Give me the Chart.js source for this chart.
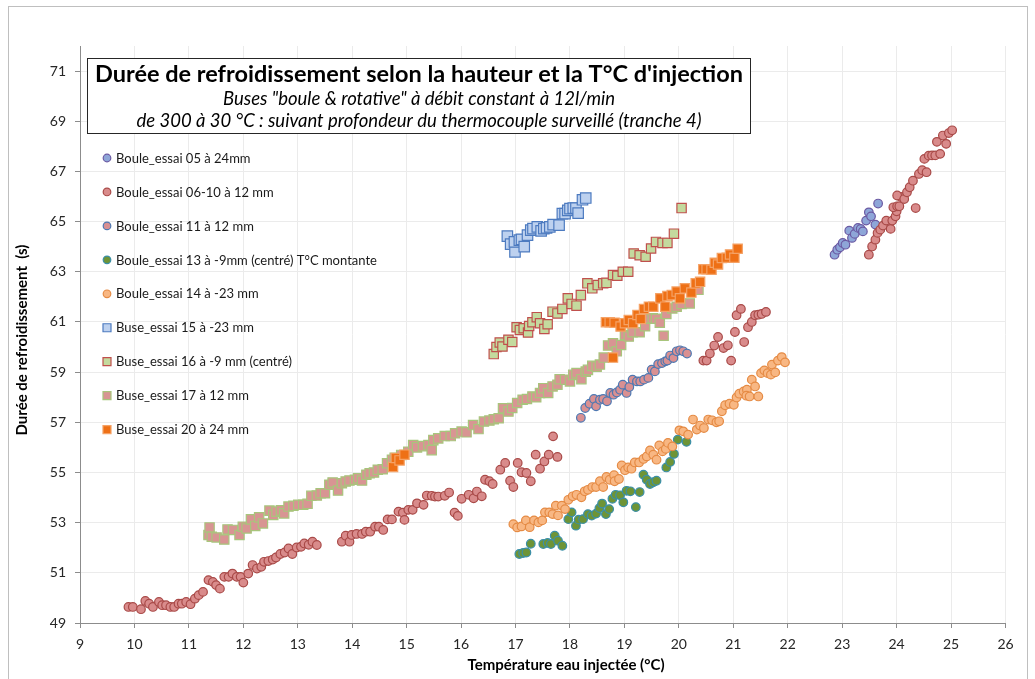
<!DOCTYPE html>
<html>
<head>
<meta charset="utf-8">
<script src="https://cdn.jsdelivr.net/npm/chart.js@4/dist/chart.umd.min.js"></script>
<style>
  html, body { margin: 0; padding: 0; background: #ffffff; }
  canvas { display: block; }
</style>
</head>
<body>
<canvas id="chart" width="1035" height="679"></canvas>
<script>
// ---- Series names (legend order) ----
const seriesNames = [
  "Boule_essai 05 à 24mm",
  "Boule_essai 06-10 à 12 mm",
  "Boule_essai 11 à 12 mm",
  "Boule_essai 13 à -9mm (centré) T°C montante",
  "Boule_essai 14 à -23 mm",
  "Buse_essai 15 à -23 mm",
  "Buse_essai 16 à -9 mm (centré)",
  "Buse_essai 17 à 12 mm",
  "Buse_essai 20 à 24 mm"
];

// ---- Measurements: [injected water temperature °C, cooling time s] ----
const boule05 = [[22.86,63.68],[22.91,63.88],[22.96,63.98],[23.01,64.15],[23.06,64.08],[23.13,64.64],[23.18,64.35],[23.23,64.51],[23.29,64.75],[23.34,64.71],[23.38,64.61],[23.44,65.04],[23.49,65.37],[23.53,65.21],[23.61,64.88],[23.66,65.72]];

const boule0610 = [[9.89,49.64],[9.97,49.64],[10.12,49.55],[10.20,49.88],[10.27,49.77],[10.34,49.64],[10.45,49.84],[10.51,49.71],[10.58,49.71],[10.66,49.64],[10.73,49.64],[10.81,49.77],[10.87,49.77],[10.95,49.84],[11.03,49.75],[11.11,49.97],[11.18,50.11],[11.26,50.24],[11.36,50.71],[11.44,50.64],[11.50,50.51],[11.57,50.37],[11.65,50.84],[11.73,50.84],[11.80,50.97],[11.88,50.84],[11.95,50.84],[12.00,50.61],[12.09,50.97],[12.17,51.31],[12.25,51.17],[12.33,51.24],[12.38,51.44],[12.46,51.47],[12.54,51.53],[12.60,51.61],[12.68,51.75],[12.76,51.81],[12.83,51.97],[12.90,51.75],[12.98,52.01],[13.06,52.04],[13.12,52.17],[13.20,52.12],[13.27,52.24],[13.35,52.11],[13.81,52.24],[13.88,52.48],[13.95,52.24],[13.99,52.51],[14.08,52.55],[14.18,52.55],[14.25,52.64],[14.33,52.64],[14.42,52.84],[14.49,52.84],[14.57,52.71],[14.65,53.13],[14.73,53.13],[14.85,53.44],[14.93,53.40],[14.96,53.11],[15.03,53.51],[15.11,53.51],[15.19,53.77],[15.31,53.71],[15.37,54.08],[15.46,54.07],[15.52,54.04],[15.58,54.04],[15.70,54.07],[15.78,54.20],[15.88,53.40],[15.94,53.27],[16.01,53.95],[16.14,54.11],[16.23,53.97],[16.29,54.24],
  [16.38,54.05],[16.44,54.71],[16.52,54.65],[16.58,54.54],[16.72,55.11],[16.81,55.38],[16.90,54.67],[16.96,54.42],[17.04,55.38],[17.11,55.01],[17.20,54.98],[17.28,54.65],[17.37,55.71],[17.45,55.15],[17.53,55.44],[17.61,55.71],[17.69,56.44],[17.77,55.62],
  [20.45,59.46],[20.51,59.46],[20.57,59.74],[20.65,60.06],[20.72,60.40],[20.82,59.96],[20.90,60.07],[20.96,59.46],[21.03,60.60],[21.06,61.27],[21.14,61.52],[21.20,60.20],[21.27,60.79],[21.34,61.00],[21.40,61.27],[21.46,61.29],[21.52,61.32],[21.60,61.40],
  [23.49,63.68],[23.55,64.01],[23.61,64.28],[23.65,64.55],[23.70,64.68],[23.75,64.84],[23.81,65.04],[23.89,64.71],[23.92,65.04],[23.98,65.21],[24.00,65.41],[23.94,65.57],[24.01,65.61],[24.05,65.61],[24.08,65.98],[24.01,66.04],[24.14,65.90],[24.19,66.17],[24.24,66.37],[24.30,66.63],[24.35,65.54],[24.41,66.90],[24.47,67.05],[24.55,66.97],[24.51,67.50],[24.59,67.63],[24.65,67.64],[24.71,67.64],[24.80,67.70],[24.74,68.18],[24.91,68.10],[24.85,68.43],[24.96,68.53],[25.02,68.64]];

const boule11 = [[18.20,57.18],[18.28,57.57],[18.36,57.74],[18.44,57.93],[18.48,57.64],[18.55,57.90],[18.61,57.93],[18.68,57.84],[18.74,58.17],[18.80,58.10],[18.86,58.19],[18.92,58.30],[18.97,58.50],[19.04,58.17],[19.09,58.41],[19.15,58.70],[19.23,58.63],[19.29,58.63],[19.36,58.70],[19.44,58.77],[19.50,59.10],[19.56,59.03],[19.62,59.32],[19.69,59.36],[19.75,59.43],[19.79,59.46],[19.84,59.66],[19.90,59.56],[19.96,59.83],[20.02,59.87],[20.08,59.83],[20.15,59.74]];

const boule13 = [[17.07,51.75],[17.14,51.79],[17.20,51.81],[17.28,52.16],[17.51,52.15],[17.59,52.19],[17.65,52.15],[17.72,52.48],[17.78,52.28],[17.86,52.08],[17.97,53.14],[18.03,53.41],[18.11,52.88],[18.16,53.12],[18.24,53.14],[18.33,53.34],[18.40,53.28],[18.48,53.36],[18.54,53.58],[18.59,53.76],[18.66,53.34],[18.72,53.54],[18.78,53.95],[18.84,54.11],[18.92,54.09],[18.98,53.81],[19.04,54.27],[19.11,54.25],[19.21,53.62],[19.28,54.22],[19.35,54.91],[19.41,54.71],[19.47,54.54],[19.53,54.61],[19.59,54.67],[19.77,55.20],[19.84,55.42],[19.91,55.74],[19.98,56.31],[20.14,56.22]];

const boule14 = [[16.96,52.94],[17.03,52.81],[17.11,52.85],[17.19,53.09],[17.26,52.82],[17.34,53.09],[17.42,53.01],[17.49,53.09],[17.54,53.41],[17.62,53.41],[17.68,53.34],[17.78,53.29],[17.74,53.68],[17.85,53.68],[17.91,53.54],[17.97,53.91],[18.05,54.05],[18.12,54.11],[18.21,54.01],[18.27,54.25],[18.33,54.31],[18.41,54.42],[18.48,54.42],[18.55,54.65],[18.61,54.42],[18.67,54.82],[18.73,54.71],[18.81,54.89],[18.82,54.65],[18.90,54.74],[18.95,55.28],[19.01,55.09],[19.07,55.20],[19.13,55.15],[19.19,55.40],[19.27,55.40],[19.35,55.54],[19.41,55.64],[19.47,55.88],[19.53,55.71],[19.59,55.51],[19.64,56.08],[19.70,55.84],[19.76,55.94],[19.80,56.18],[19.88,56.04],[20.01,56.68],[20.08,56.64],[20.17,56.51],[20.26,57.11],[20.33,56.71],[20.39,56.87],[20.46,56.77],[20.54,57.11],[20.61,57.08],[20.69,57.00],[20.74,57.04],[20.79,57.44],[20.85,57.68],[20.93,57.74],[21.01,57.70],[21.06,57.99],[21.11,58.14],[21.19,58.23],[21.25,58.30],[21.24,58.06],[21.30,58.03],[21.34,58.70],[21.40,58.43],[21.46,58.03],[21.51,58.96],[21.57,59.07],[21.63,58.96],[21.69,58.90],[21.71,59.30],[21.77,58.99],[21.82,59.46],[21.89,59.60],[21.95,59.39]];

const buse15 = [[16.85,64.42],[16.91,64.10],[16.99,63.79],[16.98,64.19],[17.07,64.26],[17.11,64.29],[17.16,64.00],[17.22,64.46],[17.28,64.66],[17.32,64.72],[17.40,64.79],[17.47,64.63],[17.52,64.72],[17.57,64.75],[17.63,64.79],[17.69,64.88],[17.80,64.86],[17.86,65.32],[17.91,65.32],[17.96,65.45],[18.00,65.52],[18.06,65.54],[18.11,65.54],[18.15,65.34],[18.23,65.87],[18.29,65.94]];

const buse16 = [[16.60,59.72],[16.65,60.00],[16.71,60.18],[16.76,60.02],[16.87,60.29],[16.94,60.20],[17.02,60.79],[17.08,60.68],[17.15,60.75],[17.23,60.58],[17.25,60.84],[17.31,60.99],[17.39,61.19],[17.45,60.95],[17.53,60.72],[17.59,60.91],[17.68,61.41],[17.77,61.34],[17.86,61.52],[17.96,61.94],[18.03,61.72],[18.12,61.65],[18.20,62.07],[18.32,62.54],[18.41,62.34],[18.51,62.47],[18.61,62.54],[18.67,62.56],[18.79,62.87],[18.87,62.84],[18.97,63.00],[19.07,63.00],[19.17,63.73],[19.28,63.66],[19.39,63.60],[19.49,63.93],[19.58,64.19],[19.70,64.15],[19.79,64.15],[19.91,64.52],[20.05,65.54]];

const buse17 = [[11.36,52.51],[11.38,52.81],[11.42,52.44],[11.51,52.41],[11.65,52.33],[11.71,52.73],[11.81,52.71],[11.93,52.51],[11.99,52.84],[12.06,52.77],[12.14,53.13],[12.22,52.87],[12.29,53.21],[12.36,52.97],[12.48,53.48],[12.55,53.31],[12.61,53.44],[12.69,53.49],[12.75,53.37],[12.83,53.64],[12.92,53.67],[13.01,53.71],[13.10,53.71],[13.18,53.75],[13.25,54.07],[13.35,54.08],[13.42,54.17],[13.50,54.17],[13.58,54.51],[13.64,54.60],[13.74,54.28],[13.81,54.57],[13.88,54.64],[13.95,54.68],[14.05,54.71],[14.11,54.77],[14.18,54.68],[14.26,54.91],[14.32,54.97],[14.40,55.00],[14.47,55.11],[14.56,55.13],[14.64,55.37],[14.73,55.51],[14.78,55.59],[14.90,55.70],[15.03,55.83],[15.12,56.09],[15.19,56.00],[15.30,56.05],[15.40,56.09],[15.46,55.89],[15.49,56.29],[15.58,56.36],[15.70,56.45],[15.81,56.45],[15.89,56.56],[16.01,56.63],[16.10,56.60],[16.22,56.89],[16.32,56.73],[16.42,57.03],[16.52,57.07],[16.60,57.12],[16.69,57.16],[16.77,57.56],[16.87,57.43],[16.94,57.57],[17.03,57.77],[17.13,57.90],[17.21,57.93],[17.31,58.03],[17.38,58.00],[17.45,58.17],[17.51,58.36],[17.60,58.17],[17.68,58.43],[17.77,58.50],[17.81,58.72],[17.91,58.70],[18.00,58.63],[18.06,58.89],[18.12,58.96],[18.21,58.72],[18.29,59.02],[18.33,59.09],[18.41,59.25],[18.49,59.22],[18.55,59.30],[18.62,59.58],[18.70,60.06],[18.79,60.15],[18.86,59.83],[18.94,60.08],[19.01,60.48],[19.08,60.42],[19.15,60.59],[19.28,60.59],[19.38,60.83],[19.43,61.13],[19.52,61.15],[19.58,61.13],[19.65,60.97],[19.72,60.45],[19.77,61.32],[19.88,61.54],[19.96,61.61],[20.05,61.72],[20.20,61.74],[20.36,62.28]];

const buse20 = [[14.75,55.22],[14.80,55.58],[14.87,55.48],[14.96,55.71],[18.66,60.99],[18.73,60.99],[18.79,59.58],[18.82,60.97],[18.93,60.82],[19.01,60.95],[19.08,61.08],[19.16,60.95],[19.24,61.28],[19.30,61.12],[19.36,61.52],[19.45,61.61],[19.53,61.61],[19.66,61.94],[19.75,61.61],[19.79,62.03],[19.87,62.07],[19.96,62.21],[20.02,61.94],[20.11,62.34],[20.23,62.17],[20.31,62.54],[20.39,62.60],[20.45,63.10],[20.51,63.10],[20.60,63.08],[20.66,63.36],[20.72,63.29],[20.79,63.55],[20.88,63.56],[20.94,63.69],[21.02,63.56],[21.08,63.92]];

// ---- Axis ticks ----
const xTicks = [9,10,11,12,13,14,15,16,17,18,19,20,21,22,23,24,25,26];
const yTicks = [49,51,53,55,57,59,61,63,65,67,69,71];

// ---- Text ----
const chartTitle = "Durée de refroidissement selon la hauteur et la T°C d'injection";
const chartSub1 = "Buses \"boule & rotative\" à débit constant à 12l/min";
const chartSub2 = "de 300 à 30 °C : suivant profondeur du thermocouple surveillé (tranche 4)";
const xTitle = "Température eau injectée (°C)";
const yTitle = "Durée de refroidissement  (s)";

const FONT = "Lato, 'Open Sans', sans-serif";

// Marker styles per series
const styles = [
  { shape: 'circle', fill: '#8EA6D8', stroke: '#6B5AA3', r: 4.3 },
  { shape: 'circle', fill: '#D98B8B', stroke: '#A94A48', r: 4.3 },
  { shape: 'circle', fill: '#D99092', stroke: '#4D78B2', r: 4.3 },
  { shape: 'circle', fill: '#6E9436', stroke: '#3A8FA8', r: 4.3 },
  { shape: 'circle', fill: '#F8B783', stroke: '#E58B45', r: 4.3 },
  { shape: 'rect',   fill: '#BDD1EF', stroke: '#4D7BC0', r: 7.4 },
  { shape: 'rect',   fill: '#C4DA9E', stroke: '#C0504D', r: 6.6 },
  { shape: 'rect',   fill: '#D89593', stroke: '#A8C57C', r: 6.6 },
  { shape: 'rect',   fill: '#EE7016', stroke: '#F5A266', r: 6.6 }
];

const seriesData = [boule05, boule0610, boule11, boule13, boule14, buse15, buse16, buse17, buse20];

const datasets = seriesData.map((pts, i) => ({
  label: seriesNames[i],
  data: pts.map(p => ({ x: p[0], y: p[1] })),
  pointStyle: styles[i].shape,
  pointRadius: styles[i].r,
  pointBackgroundColor: styles[i].fill,
  pointBorderColor: styles[i].stroke,
  pointBorderWidth: 1.2,
  showLine: false,
  order: seriesData.length - i   // later series drawn on top
}));

// Outer frame of the chart
const framePlugin = {
  id: 'frame',
  beforeDraw(chart) {
    const ctx = chart.ctx;
    ctx.save();
    ctx.fillStyle = '#ffffff';
    ctx.fillRect(0, 0, chart.width, chart.height);
    ctx.strokeStyle = '#BFBFBF';
    ctx.lineWidth = 1;
    ctx.strokeRect(8.5, 6.5, 1019, 700);
    ctx.restore();
  }
};

// Title box, in-plot legend and axis titles
const decorPlugin = {
  id: 'decor',
  afterDraw(chart) {
    const ctx = chart.ctx;
    ctx.save();

    // title box
    ctx.fillStyle = '#ffffff';
    ctx.fillRect(87, 58, 664, 75);
    ctx.strokeStyle = '#262626';
    ctx.lineWidth = 1;
    ctx.strokeRect(87.5, 58.5, 663, 75);
    ctx.fillStyle = '#000000';
    ctx.textAlign = 'center';
    ctx.textBaseline = 'middle';
    ctx.font = "bold 23.5px " + FONT;
    ctx.fillText(chartTitle, 419, 74);
    ctx.font = "italic 18.5px " + FONT;
    ctx.fillText(chartSub1, 419, 99);
    ctx.fillText(chartSub2, 419, 121);

    // legend
    ctx.textAlign = 'left';
    ctx.font = "13px " + FONT;
    seriesNames.forEach((name, i) => {
      const y = 158 + i * 33.95;
      const s = styles[i];
      ctx.fillStyle = s.fill;
      ctx.strokeStyle = s.stroke;
      ctx.lineWidth = 1.2;
      ctx.beginPath();
      if (s.shape === 'circle') {
        ctx.arc(107, y, 3.8, 0, Math.PI * 2);
      } else {
        ctx.rect(103, y - 4, 8, 8);
      }
      ctx.fill();
      ctx.stroke();
      ctx.fillStyle = '#1a1a1a';
      ctx.fillText(name, 116, y + 0.5);
    });

    // axis titles
    ctx.fillStyle = '#000000';
    ctx.font = "bold 15px " + FONT;
    ctx.textAlign = 'center';
    ctx.fillText(xTitle, 566, 665);
    ctx.translate(22, 340);
    ctx.rotate(-Math.PI / 2);
    ctx.fillText(yTitle, 0, 0);

    ctx.restore();
  }
};

new Chart(document.getElementById('chart'), {
  type: 'scatter',
  data: { datasets },
  options: {
    responsive: false,
    animation: false,
    devicePixelRatio: 1,
    layout: { padding: { left: 8, top: 46, right: 29.5, bottom: 0 } },
    plugins: {
      legend: { display: false },
      tooltip: { enabled: false },
      title: { display: false }
    },
    scales: {
      x: {
        type: 'linear',
        position: 'bottom',
        min: 9,
        max: 26,
        afterBuildTicks(scale) { scale.ticks = xTicks.map(v => ({ value: v })); },
        afterFit(scale) { scale.height = 56; },
        ticks: { color: '#262626', font: { family: FONT, size: 14 }, padding: 8 },
        grid: { color: '#EBEBEB', lineWidth: 1, tickColor: '#8C8C8C', tickLength: 5 },
        border: { color: '#8C8C8C', width: 1 }
      },
      y: {
        type: 'linear',
        min: 49,
        max: 72,
        afterBuildTicks(scale) { scale.ticks = yTicks.map(v => ({ value: v })); },
        afterFit(scale) { scale.width = 72; },
        ticks: { color: '#262626', font: { family: FONT, size: 14 }, padding: 9 },
        grid: { color: '#EBEBEB', lineWidth: 1, tickColor: '#8C8C8C', tickLength: 5 },
        border: { color: '#8C8C8C', width: 1 }
      }
    }
  },
  plugins: [framePlugin, decorPlugin]
});
</script>
</body>
</html>
